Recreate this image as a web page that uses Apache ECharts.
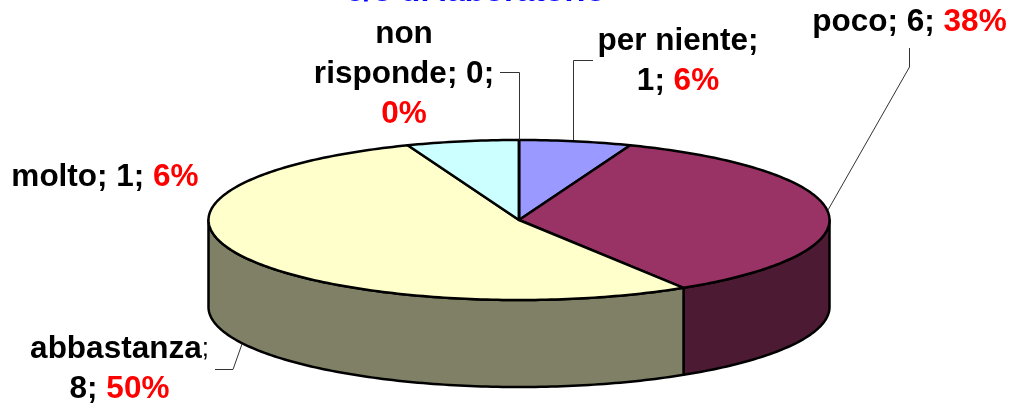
<!DOCTYPE html>
<html><head><meta charset="utf-8">
<style>html,body{margin:0;padding:0;background:#fff}#c{width:1010px;height:403px}</style>
<script src="https://cdn.jsdelivr.net/npm/echarts@6/dist/echarts.min.js"></script>
</head><body><div id="c"></div>
<script>
var titleText = 'c/o di laboratorio';
var categories = ['per niente', 'poco', 'abbastanza', 'molto', 'non risponde'];
var counts = [1, 6, 8, 1, 0];
var percents = ['6%', '38%', '50%', '6%', '0%'];
// Slice sweep in degrees
var sweeps = [21, 127, 191, 21, 0];
var topColors = ['#9999FF', '#993366', '#FFFFCC', '#CCFFFF', '#FFFFFF'];
var sideColors = ['#4D4D80', '#4D1A33', '#808066', '#668080', '#808080'];

// Layout (separate from the data)
var CX = 519, CY = 220, RX = 310.5, RY = 80, DEPTH = 87;
function labelFormat(i) {
  var n = categories[i], c = counts[i], p = '{r|' + percents[i] + '}';
  if (i === 0) return '{b|' + n + ';}\n{b|' + c + '; }' + p;
  if (i === 2) return '{b|' + n + '}{s|;}\n{b|' + c + '; }' + p;
  if (i === 4) {
    var w = n.split(' ');
    return '{b|' + w[0] + '}\n{b|' + w[1] + '; ' + c + ';}\n' + p;
  }
  return '{b|' + n + '; ' + c + '; }' + p;
}
var labelPos = [[678, 61], [909.5, 22], [119.5, 369], [105, 177], [404, 74]];
var leaders = [
  [[593, 60.5], [573.5, 60.5], [573.5, 140]],
  [[909.5, 48], [909.5, 67], [828, 210]],
  [[215, 369.5], [233, 369.5], [242, 344]],
  null,
  [[500, 72.5], [519.5, 72.5], [519.5, 140]]
];

function pt(deg, dy) {
  var r = deg * Math.PI / 180;
  return [CX + RX * Math.sin(r), CY - RY * Math.cos(r) + (dy || 0)];
}
function arc(a0, a1, dy) {
  var pts = [], n = Math.max(2, Math.ceil(Math.abs(a1 - a0)));
  for (var i = 0; i <= n; i++) pts.push(pt(a0 + (a1 - a0) * i / n, dy));
  return pts;
}
var starts = [], acc = 0;
sweeps.forEach(function (s) { starts.push(acc); acc += s; });
var lineStyle = { stroke: '#000', lineWidth: 2.5, lineJoin: 'round' };

function renderSlice(params, api) {
  var i = params.dataIndex, a0 = api.value(1), sw = api.value(2), a1 = a0 + sw;
  var kids = [];
  // Side wall: only the front half of the rim shows
  var s0 = Math.max(a0, 90), s1 = Math.min(a1, 270);
  if (s1 > s0) {
    kids.push({ type: 'polygon', z2: 1,
      shape: { points: arc(s0, s1, 0).concat(arc(s1, s0, DEPTH)) },
      style: Object.assign({ fill: sideColors[i] }, lineStyle) });
  }
  // Top face
  if (sw > 0) {
    kids.push({ type: 'polygon', z2: 2,
      shape: { points: [[CX, CY]].concat(arc(a0, a1, 0)) },
      style: Object.assign({ fill: topColors[i] }, lineStyle) });
  } else {
    kids.push({ type: 'line', z2: 3,
      shape: { x1: CX, y1: CY, x2: pt(a0)[0], y2: pt(a0)[1] },
      style: lineStyle });
  }
  if (leaders[i]) {
    kids.push({ type: 'polyline', z2: 4, shape: { points: leaders[i] },
      style: { stroke: '#333', lineWidth: 1, fill: null } });
  }
  kids.push({ type: 'text', z2: 5, x: labelPos[i][0], y: labelPos[i][1],
    style: {
      text: labelFormat(i), align: 'center', verticalAlign: 'middle',
      rich: {
        b: { font: 'bold 31.5px "Liberation Sans"', fill: '#000', lineHeight: 40 },
        r: { font: 'bold 31.5px "Liberation Sans"', fill: '#FF0000', lineHeight: 40 },
        s: { font: '26px "Liberation Sans"', fill: '#000', lineHeight: 40 }
      }
    } });
  return { type: 'group', children: kids };
}

var chart = echarts.init(document.getElementById('c'), null, { renderer: 'canvas' });
chart.setOption({
  animation: false,
  backgroundColor: '#fff',
  title: {
    text: titleText, left: 475.5, top: -24, padding: 0, textAlign: 'center',
    textStyle: { color: '#0000FF', fontFamily: 'Liberation Sans', fontWeight: 'bold', fontSize: 32, lineHeight: 32 }
  },
  series: [{
    type: 'custom',
    coordinateSystem: 'none',
    renderItem: renderSlice,
    data: categories.map(function (c, i) {
      return { name: c, value: [counts[i], starts[i], sweeps[i]] };
    })
  }]
});
</script></body></html>
